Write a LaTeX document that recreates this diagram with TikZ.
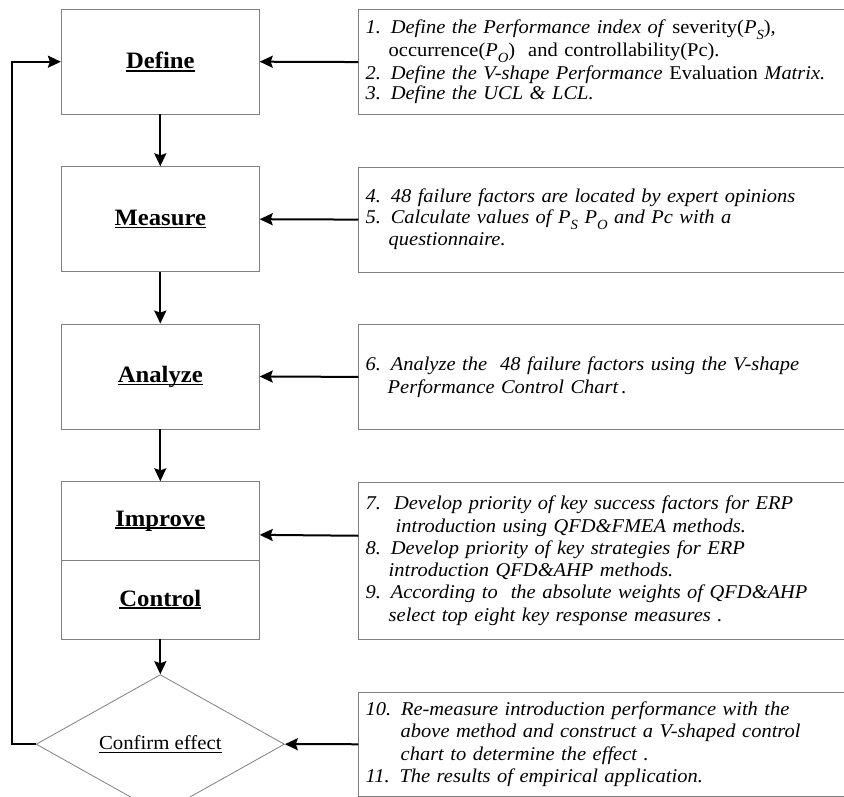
\documentclass[tikz,border=0pt]{standalone}
\usepackage{fontspec}
\setmainfont{Liberation Serif}[FakeStretch=1.05]
\usetikzlibrary{shapes.geometric,arrows.meta}
\newcommand\bul[1]{\setbox0\hbox{#1}\rlap{\rule[-3.2pt]{\wd0}{1.8pt}}\box0}
\newcommand\tul[1]{\setbox0\hbox{#1}\rlap{\rule[-2.6pt]{\wd0}{0.9pt}}\box0}
\newcommand\sbs[1]{\raisebox{-0.3em}{\fontsize{14}{14}\selectfont\itshape #1}}
\tikzset{
  lbox/.style={draw=gray, line width=0.8pt, minimum width=198pt, inner sep=0pt,
    font=\fontsize{23.5}{25}\selectfont\bfseries},
  rbox/.style={draw=gray, line width=0.8pt, anchor=north west, inner xsep=7pt, inner ysep=0pt,
    text width=486pt, align=left, font=\fontsize{19.5}{22}\selectfont},
  arr/.style={line width=2pt, -{Stealth[length=13pt,width=12pt,inset=2pt]}},
}
\begin{document}
\begin{tikzpicture}[x=1pt,y=-1pt]
\useasboundingbox (0,0) rectangle (844,797);
\clip (0,0) rectangle (844,797);
% left boxes
\node[lbox, minimum height=104.7pt] (define) at (160.3,61.7) {\bul{Define}};
\node[lbox, minimum height=105pt] (measure) at (160.3,219.2) {\bul{Measure}};
\node[lbox, minimum height=105pt] (analyze) at (160.3,376.5) {\bul{Analyze}};
\node[lbox, minimum height=78.3pt] (improve) at (160.3,520.85) {\bul{Improve}};
\node[lbox, minimum height=79pt] (control) at (160.3,599.5) {\bul{Control}};
\node[draw=gray, line width=0.8pt, diamond, minimum width=248.3pt, minimum height=105pt, inner sep=0pt,
  font=\fontsize{19.8}{22}\selectfont] (confirm) at (160.3,744.2) {\tul{Confirm effect}};
% right boxes
\node[rbox, minimum height=104.7pt] (r1) at (358.3,9.3) {%
\textit{1. Define the Performance index of} severity(\textit{P}\sbs{S}),\\[1pt]
\hspace*{23pt}occurrence(\textit{P}\sbs{O})\ \ and controllability(Pc).\\[1pt]
\textit{2. Define the V-shape Performance} Evaluation \textit{Matrix.}\\[-2pt]
\textit{3. Define the UCL \& LCL.}};
\node[rbox, minimum height=105pt, font=\fontsize{19.5}{21}\selectfont\itshape] (r2) at (358.3,166.7) {%
4. 48 failure factors are located by expert opinions\\
5. Calculate values of \textit{P}\sbs{S} \textit{P}\sbs{O} and Pc with a\\[1pt]
\hspace*{23pt}questionnaire.};
\node[rbox, minimum height=105pt, font=\fontsize{19.5}{23}\selectfont\itshape] (r3) at (358.3,324) {%
6. Analyze the\ \ 48 failure factors using the V-shape\\
\hspace*{22pt}Performance Control Chart\,.};
\node[rbox, minimum height=157.3pt, font=\fontsize{19.5}{22.3}\selectfont\itshape] (r4) at (358.3,481.7) {%
7.\ \ Develop priority of key success factors for ERP\\
\hspace*{30pt}introduction using QFD\&FMEA methods.\\
8. Develop priority of key strategies for ERP\\
\hspace*{23pt}introduction QFD\&AHP methods.\\
9. According to\ \ the absolute weights of QFD\&AHP\\
\hspace*{23pt}select top eight key response measures .};
\node[rbox, minimum height=104.3pt, font=\fontsize{19.5}{22.3}\selectfont\itshape] (r5) at (358.3,691.7) {%
10. Re-measure introduction performance with the\\
\hspace*{35pt}above method and construct a V-shaped control\\
\hspace*{35pt}chart to determine the effect .\\
11. The results of empirical application.};
% connectors
\draw[arr] (define) -- (measure);
\draw[arr] (measure) -- (analyze);
\draw[arr] (analyze) -- (improve);
\draw[arr] (control) -- (confirm);
\draw[arr] (r1.west) -- (define.east);
\draw[arr] (r2.west) -- (measure.east);
\draw[arr] (r3.west) -- (analyze.east);
\draw[arr] ([yshift=25pt]r4.west) -- ([yshift=-14pt]improve.east);
\draw[arr] (r5.west) -- (confirm.east);
\draw[arr] (confirm.west) -- (12,744.2) |- (define.west);
\end{tikzpicture}
\end{document}
